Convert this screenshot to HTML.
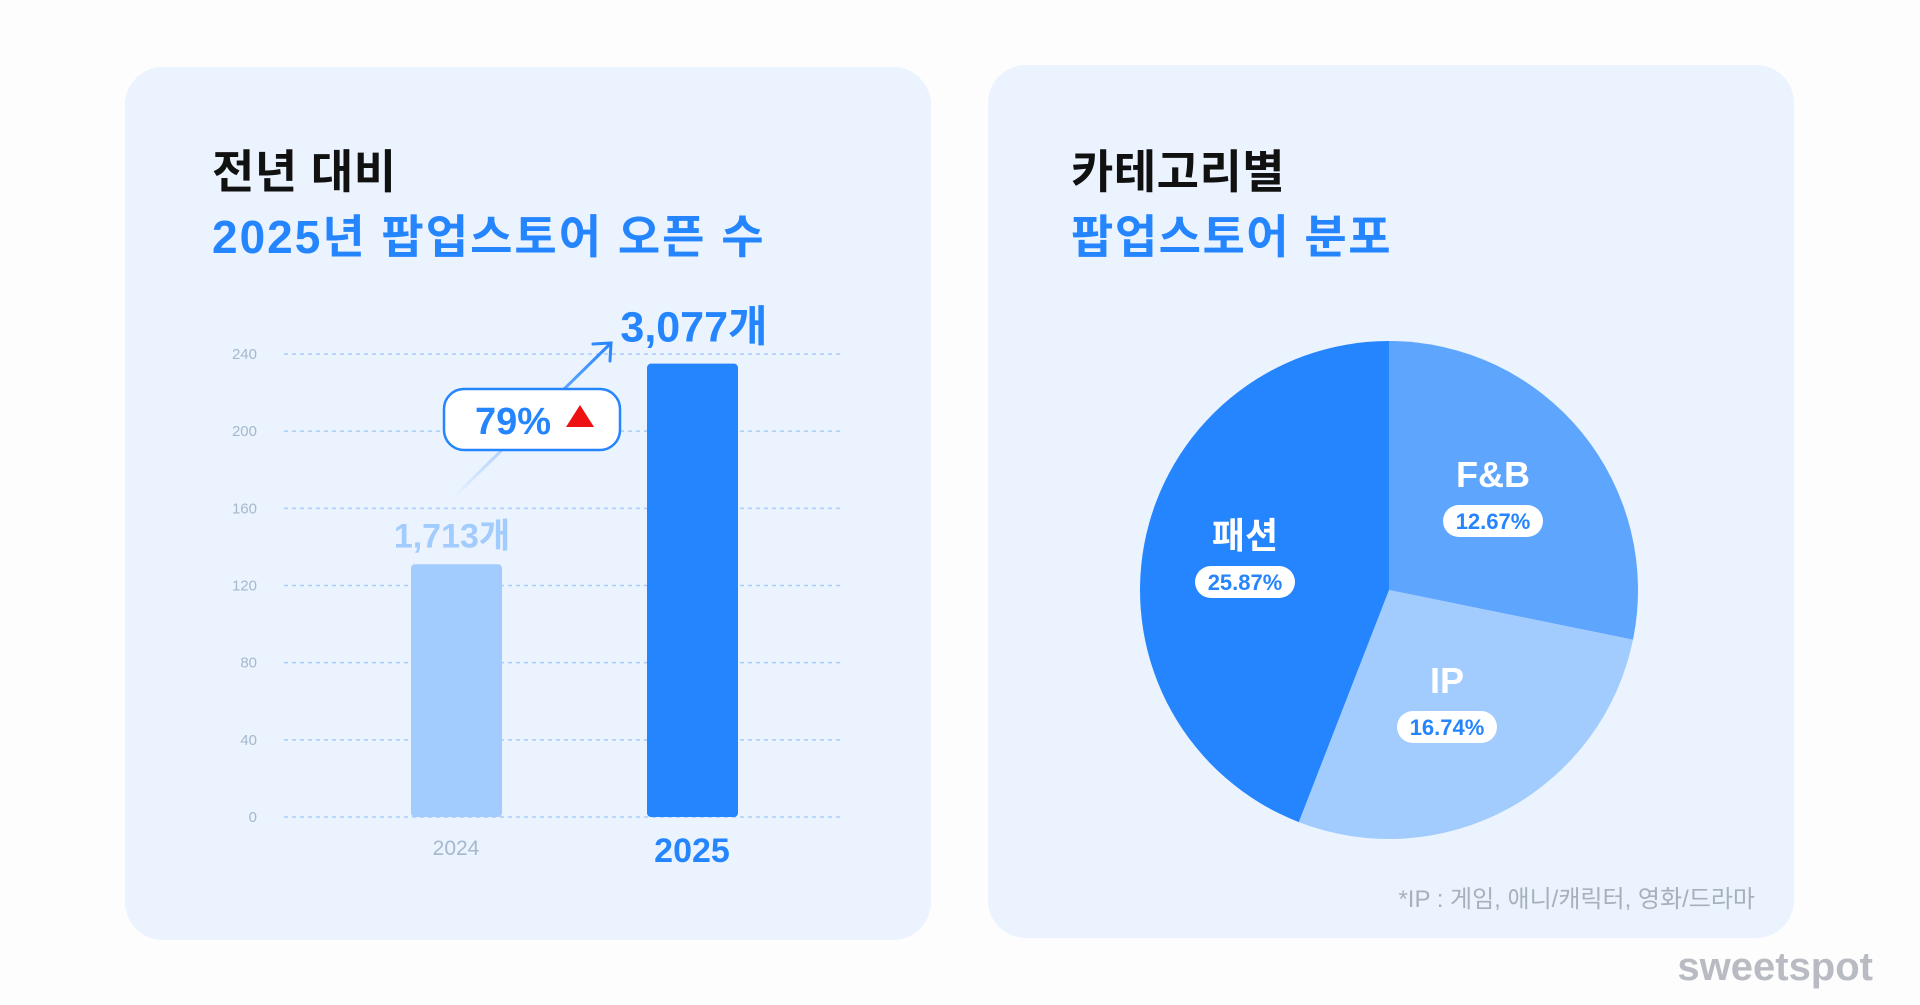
<!DOCTYPE html>
<html><head><meta charset="utf-8"><style>
body{margin:0;width:1920px;height:1005px;background:#fdfdfe;overflow:hidden;font-family:"Liberation Sans","Noto Sans CJK KR",sans-serif;}
.card{position:absolute;background:#eaf3fe;border-radius:38px;}
.t{position:absolute;font-weight:bold;white-space:nowrap;}
</style></head><body>
<div class="card" style="left:125px;top:67px;width:806px;height:873px"></div>
<div class="card" style="left:988px;top:65px;width:806px;height:873px"></div>
<div class="t" style="left:212px;top:136px;font-size:46px;letter-spacing:0.5px;color:#111">전년 대비</div>
<div class="t" style="left:212px;top:201px;font-size:46px;letter-spacing:2px;color:#2585fe">2025년 팝업스토어 오픈 수</div>
<div class="t" style="left:1071px;top:136px;font-size:46px;letter-spacing:0.5px;color:#111">카테고리별</div>
<div class="t" style="left:1071px;top:201px;font-size:46px;letter-spacing:1.5px;color:#2585fe">팝업스토어 분포</div>
<div class="t" style="right:165px;top:879px;font-size:24px;font-weight:normal;color:#a8b0ba">*IP : 게임, 애니/캐릭터, 영화/드라마</div>
<div class="t" style="right:47px;top:945px;font-size:40px;color:#b8bcc2">sweetspot</div>
<svg id="bar" width="1920" height="1005" style="position:absolute;left:0;top:0">
<defs><linearGradient id="ag" x1="0" y1="1" x2="1" y2="0"><stop offset="0" stop-color="#2585fe" stop-opacity="0"/><stop offset="1" stop-color="#2585fe"/></linearGradient></defs>
</svg>
<script>
const categories=["2024","2025"];
const values=[131,235];
const valueLabels=["1,713개","3,077개"];
const ticks=[0,40,80,120,160,200,240];
const pieLabels=["F&B","IP","패션"];
const pieShares=[28.2,27.7,44.1];
const piePct=["12.67%","16.74%","25.87%"];
const NS="http://www.w3.org/2000/svg";
const svg=document.getElementById('bar');
function mk(t,a,p){const e=document.createElementNS(NS,t);for(const k in a)e.setAttribute(k,a[k]);(p||svg).appendChild(e);return e;}
const y=v=>817-v*(463/240);
const xc=i=>[456,692][i];
ticks.forEach(t=>{
 const l=mk('line',{x1:284,x2:842,y1:y(t),y2:y(t),stroke:'#a9cdf8','stroke-dasharray':'4 4','stroke-width':1.5});
 
 
 const tx=mk('text',{x:257,y:y(t)+5,'text-anchor':'end','font-size':15,fill:'#a6b8cc'});tx.textContent=t;
 
 
});
values.forEach((v,i)=>{
 const r=mk('rect',{x:xc(i)-45,y:y(v),width:91,height:817-y(v),rx:4,fill:i?'#2585fe':'#a2cbfe'});
 
 
 const c=mk('text',{x:xc(i),y:i?862:855,'text-anchor':'middle','font-size':i?34:21,'font-weight':i?'bold':'normal',fill:i?'#2585fe':'#a6b8cc'});c.textContent=categories[i];
 
 
 const vl=mk('text',{x:xc(i)-(i?-2:4),y:y(v)-(i?22:17),'text-anchor':'middle','font-size':i?43:34,'font-weight':'bold',fill:i?'#2585fe':'#a2cbfe'});vl.textContent=valueLabels[i];
 
 
});
const ar=mk('path',{d:'M455 496 L610 344 M593 344 L611 343 L610 361',stroke:'url(#ag)','stroke-width':3,fill:'none','stroke-linecap':'round'});


const b=mk('rect',{x:444,y:389,width:176,height:61,rx:20,fill:'#fff',stroke:'#2585fe','stroke-width':2.5});


const bt=mk('text',{x:475,y:434,'font-size':38,'font-weight':'bold',fill:'#2585fe'});bt.textContent='79%';


const tri=mk('path',{d:'M580 405 L594 427 L566 427 Z',fill:'#e11'});


// pie
const cx=1389,cy=590,R=249;
const cols=['#5ea5fd','#a2cbfe','#2585fe'];
const labelPos=[[1493,475],[1447,681],[1245,536]];
const tot=pieShares.reduce((a,b)=>a+b,0);let ang=0;
const pt=a=>[cx+R*Math.sin(a*Math.PI/180),cy-R*Math.cos(a*Math.PI/180)];
pieShares.forEach((s,i)=>{
 const a0=ang,a1=ang+s/tot*360;ang=a1;
 const p0=pt(a0),p1=pt(a1);
 const p=mk('path',{d:`M${cx} ${cy} L${p0[0]} ${p0[1]} A${R} ${R} 0 ${a1-a0>180?1:0} 1 ${p1[0]} ${p1[1]} Z`,fill:cols[i]});
 
 
});
pieLabels.forEach((l,i)=>{
 const [lx,ly]=labelPos[i];
 const t=mk('text',{x:lx,y:ly+12,'text-anchor':'middle','font-size':36,'font-weight':'bold',fill:'#fff'});t.textContent=l;
 
 
 const pr=mk('rect',{x:lx-50,y:ly+30,width:100,height:32,rx:16,fill:'#fff'});
 
 
 const pt2=mk('text',{x:lx,y:ly+54,'text-anchor':'middle','font-size':22,'font-weight':'bold',fill:'#2585fe'});pt2.textContent=piePct[i];
 
 
});
</script>
</body></html>
